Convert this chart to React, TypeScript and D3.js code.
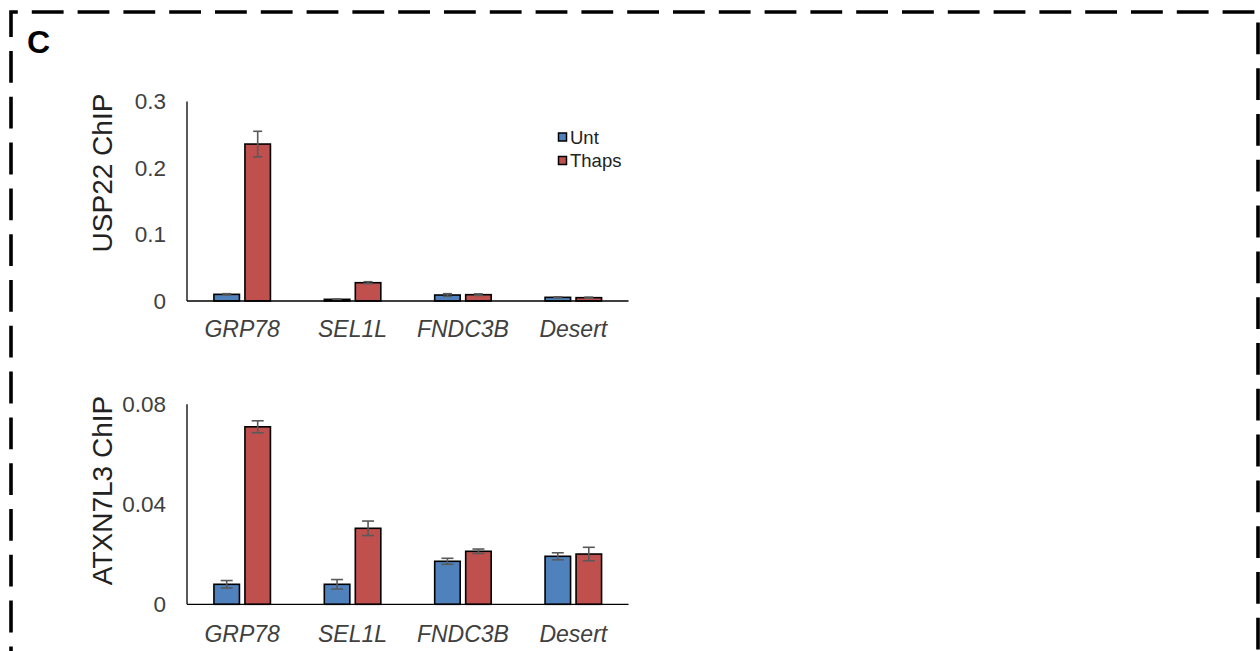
import React from "react";
import * as d3 from "d3";

// Gene loci probed by ChIP-qPCR
const categories = ["GRP78", "SEL1L", "FNDC3B", "Desert"];
const seriesNames = ["Unt", "Thaps"];
const seriesColors = ["#4f81bd", "#c0504d"];

// USP22 ChIP (upper panel)
const usp22Unt = [0.01, 0.0025, 0.009, 0.0055];
const usp22UntErr = [0.001, 0.0005, 0.002, 0.0008];
const usp22Thaps = [0.236, 0.0275, 0.0095, 0.005];
const usp22ThapsErr = [0.0192, 0.0015, 0.0012, 0.0008];
const usp22Ticks = [0, 0.1, 0.2, 0.3];
const usp22TickLabels = ["0", "0.1", "0.2", "0.3"];

// ATXN7L3 ChIP (lower panel)
const atxnUnt = [0.008, 0.008, 0.0172, 0.0192];
const atxnUntErr = [0.0015, 0.0019, 0.0012, 0.0014];
const atxnThaps = [0.071, 0.0304, 0.0212, 0.0201];
const atxnThapsErr = [0.0024, 0.0029, 0.0009, 0.0027];
const atxnTicks = [0, 0.04, 0.08];
const atxnTickLabels = ["0", "0.04", "0.08"];

const FONT = "'Liberation Sans', Arial, sans-serif";

type PanelProps = {
  title: string;
  titleY: number;
  top: number;
  bottom: number;
  yMax: number;
  unt: number[];
  untErr: number[];
  thaps: number[];
  thapsErr: number[];
  ticks: number[];
  tickLabels: string[];
  capHalf: number;
  catLabelY: number;
  legend?: boolean;
};

function Panel(p: PanelProps) {
  const left = 187;
  const right = 628.5;
  const x = d3.scaleBand<string>().domain(categories).range([left, right]).padding(0);
  const y = d3.scaleLinear().domain([0, p.yMax]).range([p.bottom, p.top]);
  const barW = 25.5;
  const gap = 5.5;
  const series = [
    { vals: p.unt, errs: p.untErr, color: seriesColors[0], off: -gap / 2 - barW },
    { vals: p.thaps, errs: p.thapsErr, color: seriesColors[1], off: gap / 2 },
  ];
  return (
    <g>
      {/* bars */}
      {series.map((s, si) =>
        categories.map((c, i) => {
          const cx = (x(c) as number) + x.bandwidth() / 2;
          const y0 = y(0);
          const y1 = y(s.vals[i]);
          return (
            <rect
              key={`b${si}-${i}`}
              x={cx + s.off}
              y={y1}
              width={barW}
              height={Math.max(0.5, y0 - y1)}
              fill={s.color}
              stroke="#000"
              strokeWidth={1.6}
            />
          );
        })
      )}
      {/* error bars */}
      {series.map((s, si) =>
        categories.map((c, i) => {
          const cx = (x(c) as number) + x.bandwidth() / 2 + s.off + barW / 2;
          const yHi = y(s.vals[i] + s.errs[i]);
          const yLo = y(Math.max(0, s.vals[i] - s.errs[i]));
          return (
            <g key={`e${si}-${i}`} stroke="#595959" strokeWidth={1.6}>
              <line x1={cx} x2={cx} y1={yHi} y2={yLo} />
              <line x1={cx - p.capHalf} x2={cx + p.capHalf} y1={yHi} y2={yHi} />
              <line x1={cx - p.capHalf} x2={cx + p.capHalf} y1={yLo} y2={yLo} />
            </g>
          );
        })
      )}
      {/* axes */}
      <line x1={left} x2={left} y1={y(p.yMax)} y2={y(0)} stroke="#000" strokeWidth={1.3} />
      <line x1={left} x2={right} y1={y(0)} y2={y(0)} stroke="#000" strokeWidth={1.3} />
      {p.ticks.map((t, i) => (
        <text
          key={`t${i}`}
          x={166}
          y={y(t)}
          textAnchor="end"
          dominantBaseline="central"
          fontFamily={FONT}
          fontSize={22.5}
          fill="#404040"
        >
          {p.tickLabels[i]}
        </text>
      ))}
      {categories.map((c) => (
        <text
          key={`c${c}`}
          x={(x(c) as number) + x.bandwidth() / 2}
          y={p.catLabelY}
          textAnchor="middle"
          dominantBaseline="central"
          fontFamily={FONT}
          fontStyle="italic"
          fontSize={23}
          fill="#404040"
        >
          {c}
        </text>
      ))}
      <text
        transform={`translate(102,${p.titleY}) rotate(-90)`}
        textAnchor="middle"
        dominantBaseline="central"
        fontFamily={FONT}
        fontSize={28}
        fill="#222"
      >
        {p.title}
      </text>
      {p.legend &&
        seriesNames.map((n, i) => (
          <g key={`l${n}`}>
            <rect
              x={558.5}
              y={133 + i * 23.5}
              width={8}
              height={8}
              fill={seriesColors[i]}
              stroke="#000"
              strokeWidth={1.5}
            />
            <text
              x={570}
              y={137 + i * 23.5}
              dominantBaseline="central"
              fontFamily={FONT}
              fontSize={18.5}
              fill="#222"
            >
              {n}
            </text>
          </g>
        ))}
    </g>
  );
}

export default function App() {
  return (
    <div style={{ position: "absolute", left: 0, top: 0 }}>
      <svg width={1260} height={651} style={{ display: "block", background: "#fff" }}>
        {/* dashed panel frame */}
        <path
          d="M11,720 L11,12 L1258,12 L1258,720"
          fill="none"
          stroke="#000"
          strokeWidth={3.6}
          strokeDasharray="31.8,14"
          strokeDashoffset={4}
        />
        <text x={27} y={42} dominantBaseline="central" fontFamily={FONT} fontWeight="bold" fontSize={32} fill="#000">
          C
        </text>
        <Panel
          title="USP22 ChIP"
          titleY={173}
          top={101.5}
          bottom={301}
          yMax={0.3}
          unt={usp22Unt}
          untErr={usp22UntErr}
          thaps={usp22Thaps}
          thapsErr={usp22ThapsErr}
          ticks={usp22Ticks}
          tickLabels={usp22TickLabels}
          capHalf={4.5}
          catLabelY={329}
          legend
        />
        <Panel
          title="ATXN7L3 ChIP"
          titleY={490.5}
          top={404.3}
          bottom={604.3}
          yMax={0.08}
          unt={atxnUnt}
          untErr={atxnUntErr}
          thaps={atxnThaps}
          thapsErr={atxnThapsErr}
          ticks={atxnTicks}
          tickLabels={atxnTickLabels}
          capHalf={6}
          catLabelY={634}
        />
      </svg>
    </div>
  );
}
